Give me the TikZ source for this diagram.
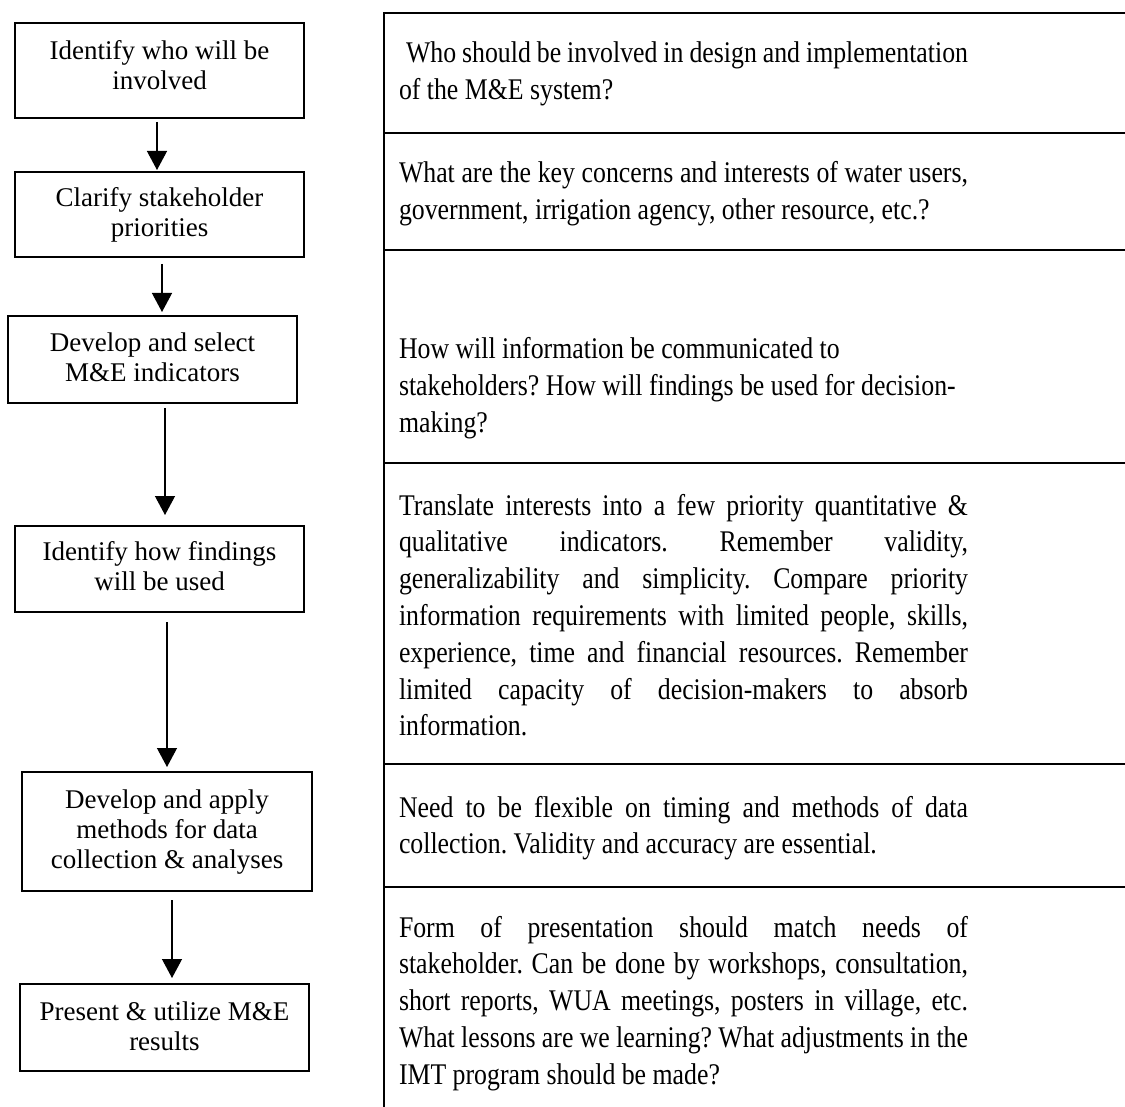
\documentclass[tikz,border=0pt]{standalone}
\usepackage{fontspec}
\setmainfont{Liberation Serif}
\newfontfamily\rfont[FakeStretch=0.86]{Liberation Serif}
\usetikzlibrary{arrows.meta}
\newcommand\jline[1]{\makebox[569pt][s]{#1}}
\newcommand\rset{\spaceskip=0pt\xspaceskip=0pt\frenchspacing}
\newcommand\blines[1]{\begin{tabular}[t]{@{}c@{}}#1\end{tabular}}
\tikzset{
  box/.style={draw=black, line width=1.3pt, inner sep=0pt, outer sep=0pt, fill=white},
  btxt/.style={inner sep=0pt, outer sep=0pt, anchor=base,
    font=\fontsize{27pt}{30pt}\selectfont},
  rtxt/.style={inner sep=0pt, outer sep=0pt, text width=569pt, align=left, anchor=base west,
    font=\rfont\fontsize{30pt}{36.8pt}\selectfont},
  arr/.style={line width=1.3pt, -{Triangle[width=20pt,length=19pt]}},
  rule/.style={line width=2pt}
}
\begin{document}
\begin{tikzpicture}[x=1pt,y=-1pt]
\useasboundingbox[fill=white] (0,0) rectangle (1125,1107);

% left flow boxes
\node[box, minimum width=289pt, minimum height=95pt] (b1) at (159.5,70.5) {};
\node[box, minimum width=289pt, minimum height=85pt] (b2) at (159.5,214.5) {};
\node[box, minimum width=289pt, minimum height=87pt] (b3) at (152.5,359.5) {};
\node[box, minimum width=289pt, minimum height=86pt] (b4) at (159.5,569) {};
\node[box, minimum width=290pt, minimum height=119pt] (b5) at (167,831.5) {};
\node[box, minimum width=289pt, minimum height=87pt] (b6) at (164.5,1027.5) {};

\node[btxt] (t1) at (159.5,60) {\blines{Identify who will be\\involved}};
\node[btxt] (t2) at (159.5,207) {\blines{Clarify stakeholder\\priorities}};
\node[btxt] (t3) at (152.5,352) {\blines{Develop and select\\M\&E indicators}};
\node[btxt] (t4) at (159.5,560) {\blines{Identify how findings\\will be used}};
\node[btxt] (t5) at (167,808) {\blines{Develop and apply\\methods for data\\collection \& analyses}};
\node[btxt] (t6) at (164.5,1020) {\blines{Present \& utilize M\&E\\results}};

% arrows
\draw[arr] ([xshift=-2.5pt,yshift=-4pt]b1.south) -- ([xshift=-2.5pt,yshift=2pt]b2.north);
\draw[arr] ([xshift=2.5pt,yshift=-7pt]b2.south) -- ([xshift=9.5pt,yshift=4pt]b3.north);
\draw[arr] ([xshift=12.5pt,yshift=-5pt]b3.south) -- ([xshift=5.5pt,yshift=11pt]b4.north);
\draw[arr] ([xshift=7.5pt,yshift=-10pt]b4.south) -- ([xshift=0pt,yshift=5pt]b5.north);
\draw[arr] ([xshift=5pt,yshift=-9pt]b5.south) -- ([xshift=7.5pt,yshift=6pt]b6.north);

% right table
\draw[rule] (1125,13) -- (383.5,13) -- (383.5,1107);
\draw[rule] (383.5,133) -- (1125,133);
\draw[rule] (383.5,250) -- (1125,250);
\draw[rule] (383.5,463) -- (1125,463);
\draw[rule] (383.5,764) -- (1125,764);
\draw[rule] (383.5,887) -- (1125,887);

\node[rtxt] (r1) at (399,63) {\rset\jline{\hspace*{7pt}Who should be involved in design and implementation}\\of the M\&E system?};
\node[rtxt] (r2) at (399,183) {\rset\jline{What are the key concerns and interests of water users,}\\government, irrigation agency, other resource, etc.?};
\node[rtxt] (r3) at (399,359) {\rset How will information be communicated to\\stakeholders? How will findings be used for decision-\\making?};
\node[rtxt] (r4) at (399,515) {\rset\jline{Translate interests into a few priority quantitative \&}\\
\jline{qualitative indicators. Remember validity,}\\
\jline{generalizability and simplicity. Compare priority}\\
\jline{information requirements with limited people, skills,}\\
\jline{experience, time and financial resources. Remember}\\
\jline{limited capacity of decision-makers to absorb}\\
information.};
\node[rtxt] (r5) at (399,817) {\rset\jline{Need to be flexible on timing and methods of data}\\collection. Validity and accuracy are essential.};
\node[rtxt] (r6) at (399,937) {\rset\jline{Form of presentation should match needs of}\\
\jline{stakeholder. Can be done by workshops, consultation,}\\
\jline{short reports, WUA meetings, posters in village, etc.}\\
\jline{What lessons are we learning? What adjustments in the}\\
IMT program should be made?};
\end{tikzpicture}
\end{document}
